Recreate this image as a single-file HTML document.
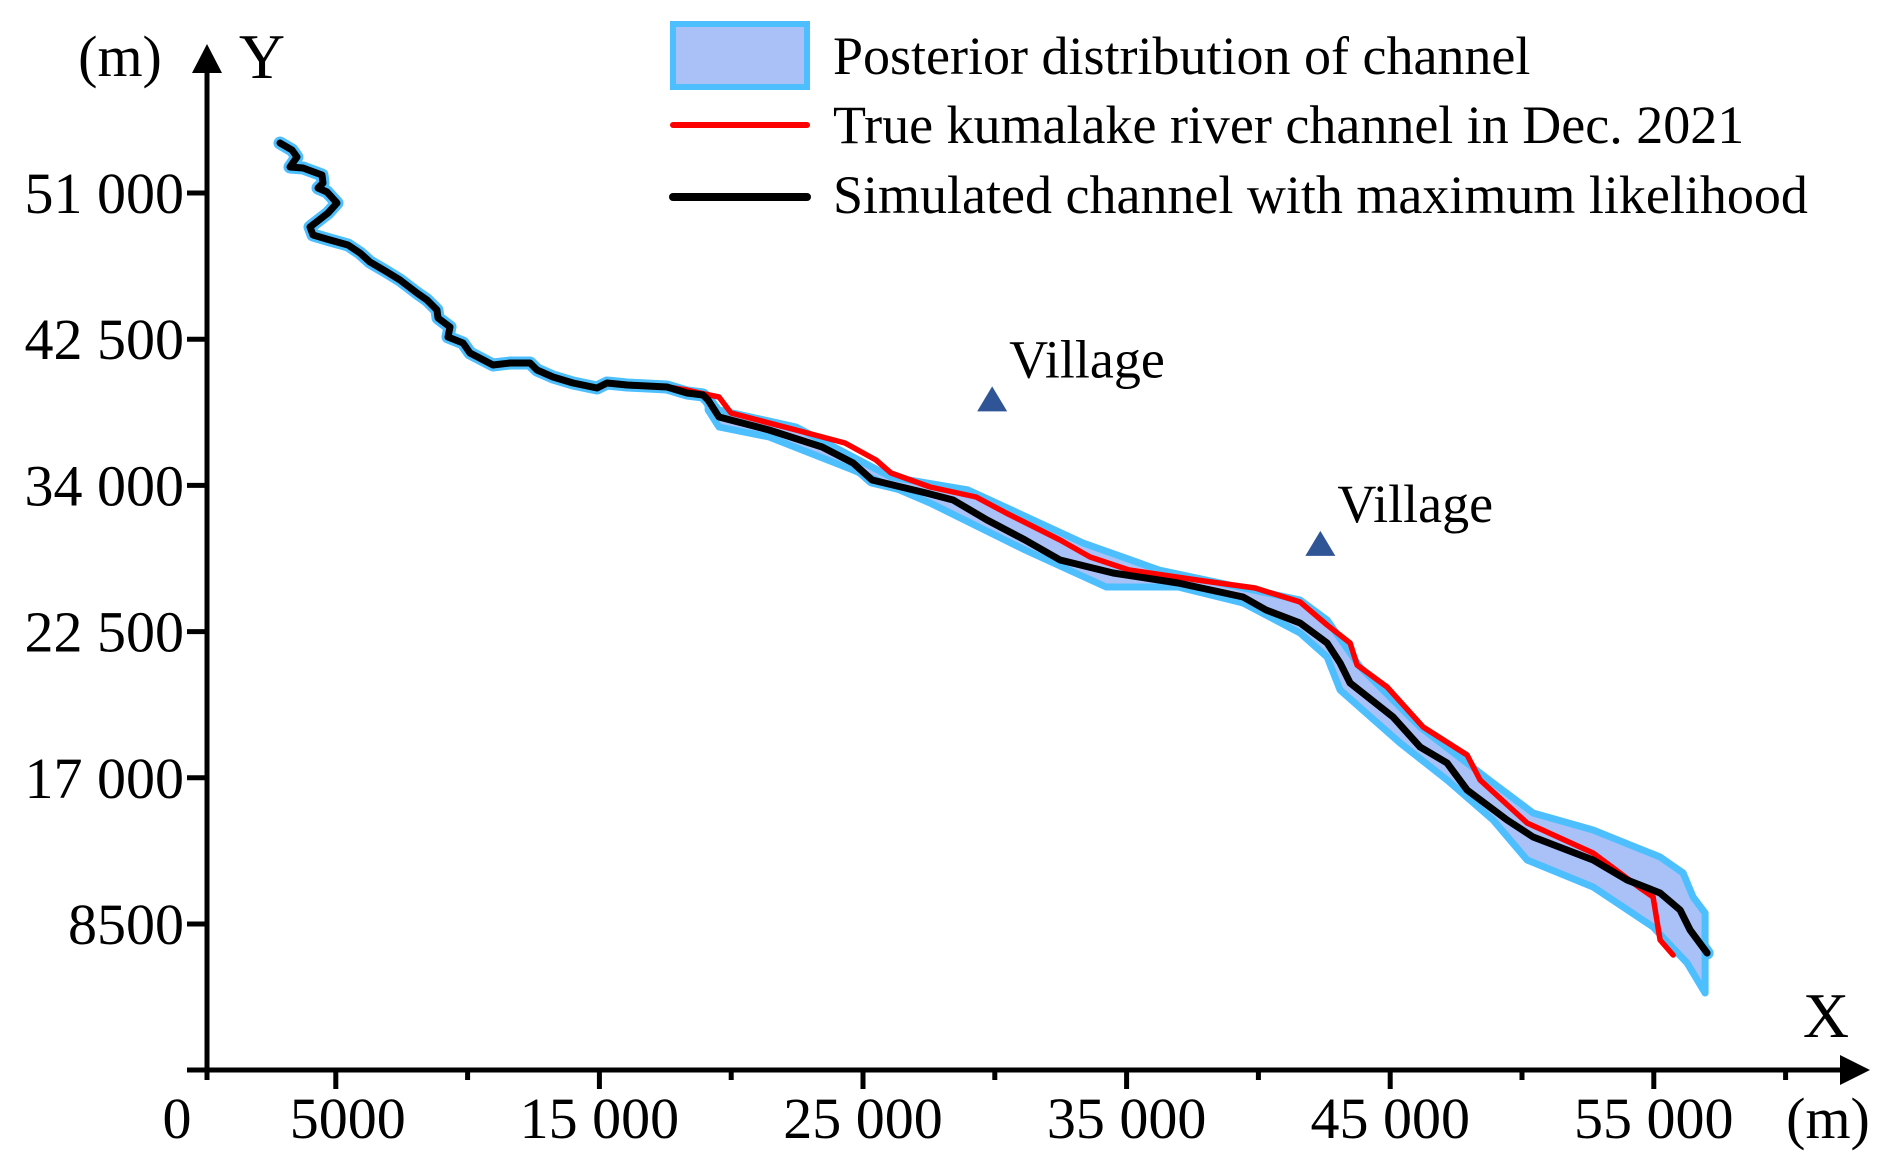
<!DOCTYPE html>
<html><head><meta charset="utf-8"><style>
html,body{margin:0;padding:0;background:#fff;}
svg{display:block;font-family:"Liberation Serif","DejaVu Serif",serif;}
</style></head><body>
<svg id="chart" width="1892" height="1167" viewBox="0 0 1892 1167" xmlns="http://www.w3.org/2000/svg">
<g id="band"></g>
<g id="lines"></g>
<g id="axes"></g>
<g>
  <rect x="673" y="24" width="134" height="63" fill="#a9c1f7" stroke="#4dbfff" stroke-width="6"/>
  <text x="833" y="74" font-size="54">Posterior distribution of channel</text>
  <line x1="673" y1="125" x2="807" y2="125" stroke="#ff0000" stroke-width="6" stroke-linecap="round"/>
  <text x="833" y="143" font-size="54">True kumalake river channel in Dec. 2021</text>
  <line x1="673" y1="197" x2="807" y2="197" stroke="#000" stroke-width="8" stroke-linecap="round"/>
  <text x="833" y="213" font-size="54">Simulated channel with maximum likelihood</text>
</g>
<g id="villages"></g>
</svg>
<script>
const xTicksMajor = [5000, 15000, 25000, 35000, 45000, 55000];
const xTickLabels = ["5000", "15 000", "25 000", "35 000", "45 000", "55 000"];
const xTicksMinor = [0, 10000, 20000, 30000, 40000, 50000, 60000];
const yTicks = [51000, 42500, 34000, 25500, 17000, 8500];
const yTickLabels = ["51 000", "42 500", "34 000", "22 500", "17 000", "8500"];

const blackX = [2883,3339,3528,3263,3756,4477,4515,4325,4667,5046,4705,4022,4135,4780,5463,5919,6298,6943,7436,8081,8461,8840,8878,9333,9257,9826,10092,10965,11610,12368,12634,13241,14000,14910,15290,16049,17566,18325,18932,19122,19539,21436,23447,24623,25344,27393,28417,29707,31149,32477,34488,36954,39420,40293,41583,42607,43100,43480,45111,46135,47160,47918,49436,50422,52698,53988,55240,55999,56378,57023];
const blackY = [53907,53500,53093,52512,52453,52047,51581,51291,51058,50419,49837,49023,48558,48267,47977,47512,46988,46407,45942,45186,44779,44198,43733,43209,42628,42279,41698,41000,41116,41116,40709,40302,39953,39663,39953,39837,39721,39372,39256,38965,37977,37221,36233,35302,34314,33558,33151,31988,30826,29663,28907,28325,27511,26756,26000,24837,23674,22511,20535,18790,17860,16290,14546,13558,12221,11058,10302,9314,8151,6814];

const redX = [2883,3339,3528,3263,3756,4477,4515,4325,4667,5046,4705,4022,4135,4780,5463,5919,6298,6943,7436,8081,8461,8840,8878,9333,9257,9826,10092,10965,11610,12368,12634,13241,14000,14910,15290,16049,17566,18325,18818,19539,19994,22460,24319,25495,26064,27544,29290,30428,32477,33615,35094,37674,39875,41583,42607,43480,43745,44884,46249,47918,48412,50195,52698,54481,54974,55240,55733];
const redY = [53907,53500,53093,52512,52453,52047,51581,51291,51058,50419,49837,49023,48558,48267,47977,47512,46988,46407,45942,45186,44779,44198,43733,43209,42628,42279,41698,41000,41116,41116,40709,40302,39953,39663,39953,39837,39721,39547,39372,39140,38209,37221,36465,35477,34721,33907,33326,32395,30826,29837,29081,28500,28035,27221,25884,24837,23558,22279,19953,18326,16872,14372,12628,10593,10070,7570,6698];

const bandUpperX = [19122,19539,22460,26064,28986,33349,36233,41583,42607,43859,46135,48905,50422,52698,55240,56112,56491,56946];
const bandUpperY = [39140,38384,37395,34488,33733,30651,29081,27337,26174,23442,19953,16698,14953,13965,12395,11465,10070,9140];
const bandLowerX = [19122,19539,21436,24623,27544,31149,34222,36954,39420,41583,42607,43100,45376,47160,48905,50195,52698,54974,56264,56946];
const bandLowerY = [38384,37395,36814,34895,32977,30244,28093,28093,27163,25419,24023,22105,19023,16872,14546,12221,10651,8326,6233,4488];

const villageX = [29900, 42350];
const villageY = [39000, 30600];
const villageLabels = ["Village", "Village"];

const NS = "http://www.w3.org/2000/svg";
function xs(v){ return 204 + v * 0.02636; }
function ys(v){ return 193 + (51000 - v) * 0.0172; }
function mk(tag, attrs, parent){
  const e = document.createElementNS(NS, tag);
  for (const k in attrs) e.setAttribute(k, attrs[k]);
  parent.appendChild(e);
  return e;
}
function pts(X, Y){ return X.map((x,i)=>xs(x).toFixed(1)+","+ys(Y[i]).toFixed(1)).join(" "); }

const band = document.getElementById("band");
const under = mk("polyline", {points: pts(blackX, blackY), fill:"none", stroke:"#4dbfff", "stroke-width":13, "stroke-linejoin":"round", "stroke-linecap":"round"}, band);


const polyPts = pts(bandUpperX, bandUpperY) + " " + pts(bandLowerX.slice().reverse(), bandLowerY.slice().reverse());
const bp = mk("polygon", {points: polyPts, fill:"#a9c1f7", stroke:"#4dbfff", "stroke-width":7, "stroke-linejoin":"round"}, band);



const lines = document.getElementById("lines");
const rl = mk("polyline", {points: pts(redX, redY), fill:"none", stroke:"#ff0000", "stroke-width":5.5, "stroke-linejoin":"round", "stroke-linecap":"round"}, lines);


const bl = mk("polyline", {points: pts(blackX, blackY), fill:"none", stroke:"#000", "stroke-width":7, "stroke-linejoin":"round", "stroke-linecap":"round"}, lines);



const ax = document.getElementById("axes");
let e;
e = mk("line", {x1:207, y1:1078, x2:207, y2:66, stroke:"#000", "stroke-width":5}, ax);


e = mk("polygon", {points:"207,44 192,73 222,73", fill:"#000"}, ax);


e = mk("line", {x1:187, y1:1070, x2:1845, y2:1070, stroke:"#000", "stroke-width":5}, ax);


e = mk("polygon", {points:"1870,1070 1840,1055 1840,1085", fill:"#000"}, ax);



yTicks.forEach((v,i)=>{
  const y = ys(v);
  const t = mk("line", {x1:187, y1:y, x2:207, y2:y, stroke:"#000", "stroke-width":5}, ax);
  
  
  const l = mk("text", {x:184, y:y+20, "font-size":58, "text-anchor":"end"}, ax);
  l.textContent = yTickLabels[i];
  
  
});
xTicksMajor.forEach((v,i)=>{
  const x = xs(v);
  const t = mk("line", {x1:x, y1:1070, x2:x, y2:1089, stroke:"#000", "stroke-width":5}, ax);
  
  
  const l = mk("text", {x:x + (i===0 ? 12 : 0), y:1138, "font-size":58, "text-anchor":"middle"}, ax);
  l.textContent = xTickLabels[i];
  
  
});
xTicksMinor.forEach(v=>{
  const x = xs(v) + (v===0 ? 3 : 0);
  const t = mk("line", {x1:x, y1:1070, x2:x, y2:1080, stroke:"#000", "stroke-width":5}, ax);
  
  
});
e = mk("text", {x:177, y:1138, "font-size":58, "text-anchor":"middle"}, ax); e.textContent = "0";


e = mk("text", {x:1828, y:1138, "font-size":58, "text-anchor":"middle"}, ax); e.textContent = "(m)";


e = mk("text", {x:1826, y:1037, "font-size":64, "text-anchor":"middle"}, ax); e.textContent = "X";


e = mk("text", {x:120, y:76, "font-size":58, "text-anchor":"middle"}, ax); e.textContent = "(m)";


e = mk("text", {x:262, y:78, "font-size":64, "text-anchor":"middle"}, ax); e.textContent = "Y";



const vg = document.getElementById("villages");
villageX.forEach((v,i)=>{
  const x = xs(v), y = ys(villageY[i]);
  const tr = mk("polygon", {points:`${x},${y-13} ${x-15},${y+12} ${x+15},${y+12}`, fill:"#2f5597"}, vg);
  
  
  const l = mk("text", {x:x+17, y:y-22, "font-size":54}, vg);
  l.textContent = villageLabels[i];
  
  
});
</script>
</body></html>
